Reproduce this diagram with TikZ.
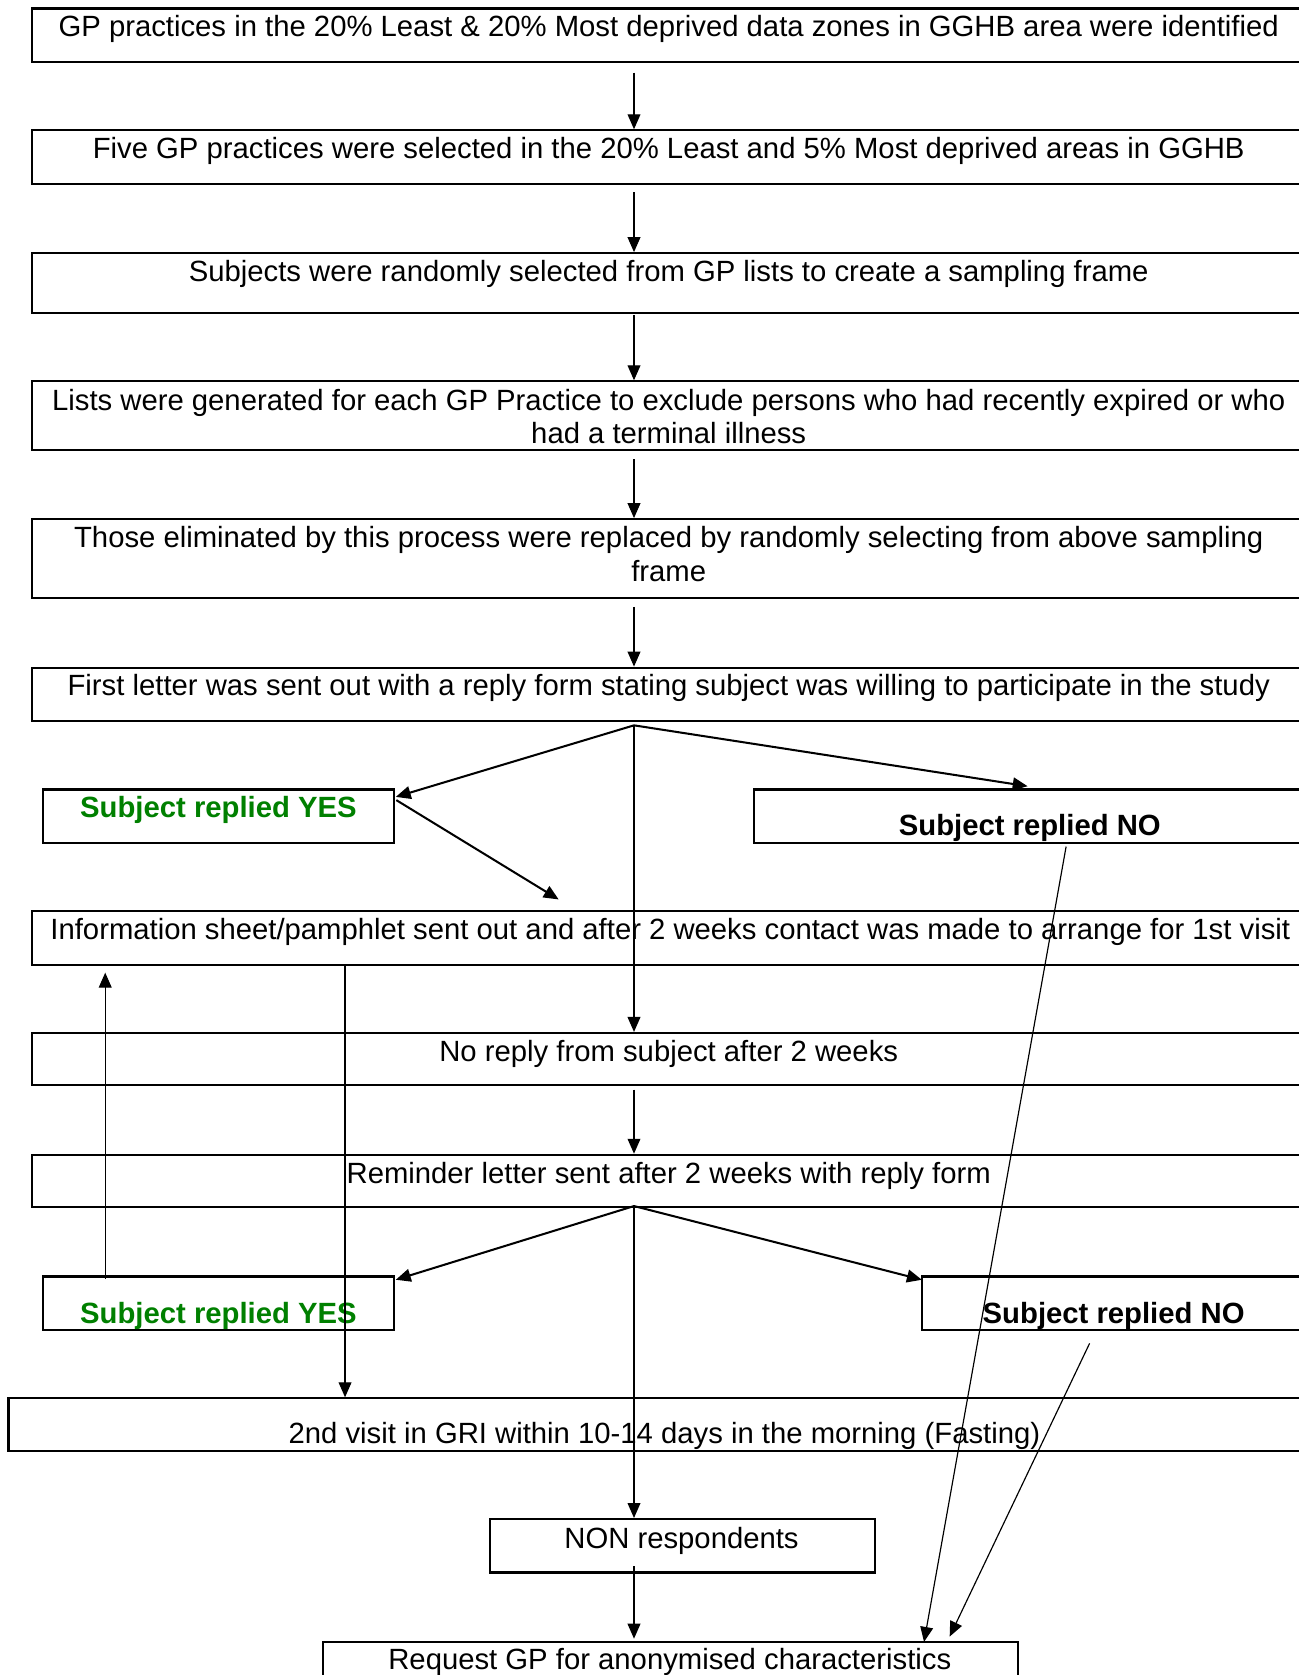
\documentclass[tikz,border=0pt]{standalone}
\usepackage{fontspec}
\setmainfont{Liberation Sans}
\usetikzlibrary{arrows.meta,fit}
\definecolor{yesgreen}{RGB}{0,128,0}
\begin{document}
\begin{tikzpicture}[x=0.5pt,y=-0.5pt,
  box/.style={draw, line width=1pt, inner sep=0pt},
  txt/.style={font=\fontsize{13.7}{15.8}\selectfont, inner sep=0pt, anchor=base, align=center},
  yestxt/.style={txt, font=\fontsize{13.7}{15.8}\selectfont\bfseries, text=yesgreen},
  notxt/.style={txt, font=\fontsize{13.7}{15.8}\selectfont\bfseries},
  arr/.style={-{Triangle[length=7pt,width=6pt]}, line width=0.55pt},
  arrthick/.style={-{Triangle[length=7pt,width=6pt]}, line width=0.95pt}]
\clip (0,0) rectangle (1216,1568);
% boxes
\node[box, fit={(30,8)(1222,58)}] (b1) {};
\node[box, fit={(30,122)(1222,172)}] (b2) {};
\node[box, fit={(30,237)(1222,293)}] (b3) {};
\node[box, fit={(30,357)(1222,421)}] (b4) {};
\node[box, fit={(30,486)(1222,560)}] (b5) {};
\node[box, fit={(30,625)(1222,675)}] (b6) {};
\node[box, fit={(40,739)(369,789)}] (y1) {};
\node[box, fit={(706,739)(1222,789)}] (n1) {};
\node[box, fit={(30,853)(1222,903)}] (b7) {};
\node[box, fit={(30,967)(1222,1016)}] (b8) {};
\node[box, fit={(30,1081)(1222,1130)}] (b9) {};
\node[box, fit={(40,1195)(369,1245)}] (y2) {};
\node[box, fit={(863,1195)(1222,1245)}] (n2) {};
\node[box, fit={(8,1309)(1236,1358)}] (b10) {};
\node[box, fit={(459,1422)(819,1472)}] (non) {};
\node[box, fit={(302,1537)(953,1600)}] (req) {};
% texts
\node[txt] (t1) at (626,34.5) {GP practices in the 20\% Least \& 20\% Most deprived data zones in GGHB area were identified};
\node[txt] (t2) at (626,148.5) {Five GP practices were selected in the 20\% Least and 5\% Most deprived areas in GGHB};
\node[txt] (t3) at (626,263.5) {Subjects were randomly selected from GP lists to create a sampling frame};
\node[txt] (t4) at (626,415.5) {Lists were generated for each GP Practice to exclude persons who had recently expired or who\\had a terminal illness};
\node[txt] (t5) at (626,544.5) {Those eliminated by this process were replaced by randomly selecting from above sampling\\frame};
\node[txt] (t6) at (626,651.5) {First letter was sent out with a reply form stating subject was willing to participate in the study};
\node[yestxt] (ty1) at (204.5,765.5) {Subject replied YES};
\node[notxt] (tn1) at (964,782.5) {Subject replied NO};
\node[txt] (t7) at (627.5,879.5) {Information sheet/pamphlet sent out and after 2 weeks contact was made to arrange for 1st visit};
\node[txt] (t8) at (626,993.5) {No reply from subject after 2 weeks};
\node[txt] (t9) at (626,1107.5) {Reminder letter sent after 2 weeks with reply form};
\node[yestxt] (ty2) at (204.5,1238.5) {Subject replied YES};
\node[notxt] (tn2) at (1042.5,1238.5) {Subject replied NO};
\node[txt] (t10) at (622,1351.5) {2nd visit in GRI within 10-14 days in the morning (Fasting)};
\node[txt] (tnon) at (638,1449.5) {NON respondents};
\node[txt] (treq) at (627,1562.5) {Request GP for anonymised characteristics};
% connector points
\coordinate (a1) at (593.5,68);
\coordinate (a2) at (593.5,180);
\coordinate (a3) at (593.5,295);
\coordinate (a4) at (593.5,430);
\coordinate (a5) at (593.5,568);
\coordinate (f1) at (593.5,679);
\coordinate (y1in) at (370.5,746);
\coordinate (n1in) at (962,736);
\coordinate (y1out) at (371,749);
\coordinate (b7in) at (523,842);
\coordinate (b7out) at (323,903);
\coordinate (y2out) at (98.5,1197);
\coordinate (b7back) at (98.5,910.5);
\coordinate (n1out) at (998,792.5);
\coordinate (reqin1) at (865,1537);
\coordinate (a8) at (593.5,1020);
\coordinate (f2) at (593.5,1129);
\coordinate (y2in) at (370.5,1198);
\coordinate (n2in) at (863,1198);
\coordinate (n2out) at (1020,1257.5);
\coordinate (reqin2) at (889,1532);
\coordinate (nonout) at (593.5,1466);
\coordinate (reqin3) at (593.5,1534);
% connectors
\draw[arr] (a1) -- (a1 |- b2.north);
\draw[arr] (a2) -- (a2 |- b3.north);
\draw[arr] (a3) -- (a3 |- b4.north);
\draw[arr] (a4) -- (a4 |- b5.north);
\draw[arr] (a5) -- (a5 |- b6.north);
\draw[arrthick] (f1) -- (y1in);
\draw[arrthick] (f1) -- (n1in);
\draw[arr] (f1) -- (f1 |- b8.north);
\draw[arrthick] (y1out) -- (b7in);
\draw[arr] (b7out) -- (b7out |- b10.north);
\draw[arr] (y2out) -- (b7back);
\draw[arr] (n1out) -- (reqin1);
\draw[arr] (a8) -- (a8 |- b9.north);
\draw[arrthick] (f2) -- (y2in);
\draw[arrthick] (f2) -- (n2in);
\draw[arr] (f2) -- (f2 |- non.north);
\draw[arr] (n2out) -- (reqin2);
\draw[arr] (nonout) -- (reqin3);
\end{tikzpicture}
\end{document}
